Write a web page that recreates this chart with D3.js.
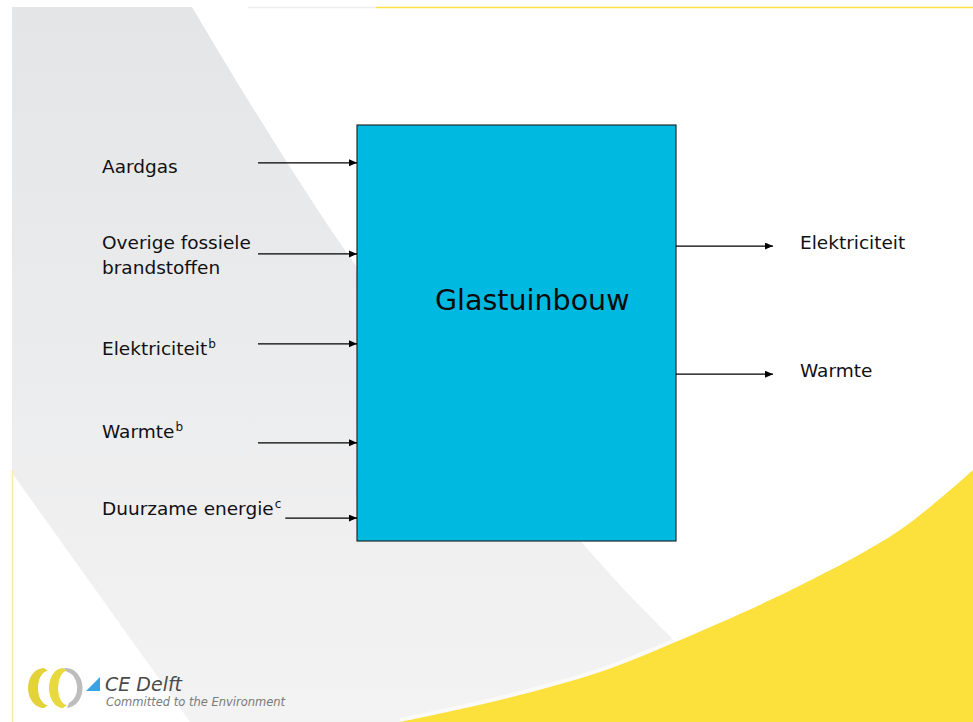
<!DOCTYPE html>
<html>
<head>
<meta charset="utf-8">
<script src="https://cdn.jsdelivr.net/npm/d3@7"></script>
<style>
  html, body { margin: 0; padding: 0; background: #fff; }
  svg { display: block; font-family: 'DejaVu Sans', Verdana, sans-serif; }
</style>
</head>
<body>
<svg id="chart" width="973" height="722"></svg>
<script>
// ── Data ──────────────────────────────────────────────────────────────────────
// where each flow meets the box side, in % of the box height (top = 0)
const inputLabels = [['Aardgas'], ['Overige fossiele', 'brandstoffen'], ['Elektriciteit'], ['Warmte'], ['Duurzame energie']]
const inputSup    = ['', '', 'b', 'b', 'c']
const inputLevel  = [9.1, 31.0, 52.6, 76.4, 94.5]
const outputLabels = ['Elektriciteit', 'Warmte']
const outputLevel  = [29.1, 59.9]
const processName  = 'Glastuinbouw'

// ── Layout ────────────────────────────────────────────────────────────────────
const W = 973, H = 722
const box = { x0: 357, x1: 676, y0: 125, y1: 541 }
const labelDy = [10, -5, 11, -5, -3]     // baseline offset of the input label vs its arrow
const svg = d3.select('#chart')
const y = d3.scaleLinear().domain([0, 100]).range([box.y0, box.y1])

const defs = svg.append('defs')
const grad = defs.append('linearGradient').attr('id', 'band').attr('x1', 0).attr('y1', 0).attr('x2', 0).attr('y2', 1)
grad.append('stop').attr('offset', '0%').attr('stop-color', '#e4e5e6')
grad.append('stop').attr('offset', '100%').attr('stop-color', '#f3f3f4')

defs.append('marker')
  .attr('id', 'arrow').attr('markerUnits', 'userSpaceOnUse')
  .attr('markerWidth', 9).attr('markerHeight', 8)
  .attr('refX', 8).attr('refY', 3.5).attr('orient', 'auto')
  .append('path').attr('d', 'M0,0 L8,3.5 L0,7 Z').attr('fill', '#000')

// ── Slide background ──────────────────────────────────────────────────────────
const smooth = d3.line().curve(d3.curveCatmullRom)
const bandEdge = [[192, 7], [357, 267], [600, 563], [677, 643], [760, 722]]
svg.append('path')
  .attr('d', 'M12,7 ' + smooth(bandEdge).slice(1) + ' L190,722 L12,473 Z')
  .attr('fill', 'url(#band)')

const swoosh = [[400, 722], [500, 700], [600, 672], [673, 643], [797, 587], [900, 530], [973, 470]]
svg.append('path').attr('d', smooth(swoosh))
  .attr('fill', 'none').attr('stroke', '#fff').attr('stroke-width', 8).attr('opacity', 0.6)
svg.append('path')
  .attr('d', smooth(swoosh) + ` L${W},${H} Z`)
  .attr('fill', '#fce03b')

svg.append('line').attr('x1', 248).attr('x2', 376).attr('y1', 7.5).attr('y2', 7.5)
  .attr('stroke', '#eeeeee').attr('stroke-width', 1.5)
svg.append('line').attr('x1', 376).attr('x2', W).attr('y1', 7.5).attr('y2', 7.5)
  .attr('stroke', '#fbe04a').attr('stroke-width', 1.5)
svg.append('line').attr('x1', 12.5).attr('x2', 12.5).attr('y1', 470).attr('y2', H)
  .attr('stroke', '#fbeaa6').attr('stroke-width', 1.5)

// ── Process box ───────────────────────────────────────────────────────────────
svg.append('rect')
  .attr('x', box.x0).attr('y', box.y0)
  .attr('width', box.x1 - box.x0).attr('height', box.y1 - box.y0)
  .attr('fill', '#00b9e0').attr('stroke', '#1f2a30').attr('stroke-width', 1.2)

svg.append('text')
  .attr('x', 435).attr('y', 310)
  .attr('font-size', 28.5).attr('fill', '#0a0a0a')
  .text(processName)

// ── Inputs ────────────────────────────────────────────────────────────────────
const inputs = svg.append('g').selectAll('g')
  .data(inputLabels.map((lines, i) => ({ lines, sup: inputSup[i], level: inputLevel[i], dy: labelDy[i] })))
  .join('g')

inputs.each(function (d) {
  const g = d3.select(this)
  const ay = y(d.level)
  const t = g.append('text').attr('font-size', 18.5).attr('fill', '#111')
  d.lines.forEach((line, k) => {
    t.append('tspan').attr('x', 102).attr('y', ay + d.dy + k * 25).text(line)
  })
  if (d.sup) {
    t.append('tspan').attr('font-size', 12).attr('dy', -7).attr('dx', 1).text(d.sup)
  }
  const bb = t.node().getBBox()
  const start = Math.max(258, bb.x + bb.width + 4)
  g.append('line')
    .attr('x1', start).attr('x2', box.x0).attr('y1', ay).attr('y2', ay)
    .attr('stroke', '#000').attr('stroke-width', 1.3)
    .attr('marker-end', 'url(#arrow)')
})

// ── Outputs ───────────────────────────────────────────────────────────────────
const outputs = svg.append('g').selectAll('g')
  .data(outputLabels.map((label, i) => ({ label, level: outputLevel[i] })))
  .join('g')

outputs.append('line')
  .attr('x1', box.x1).attr('x2', 773)
  .attr('y1', d => y(d.level)).attr('y2', d => y(d.level))
  .attr('stroke', '#000').attr('stroke-width', 1.3)
  .attr('marker-end', 'url(#arrow)')

outputs.append('text')
  .attr('x', 800).attr('y', d => y(d.level) + 3)
  .attr('font-size', 18.5).attr('fill', '#111')
  .text(d => d.label)

// ── Logo ──────────────────────────────────────────────────────────────────────
const logo = svg.append('g')
logo.append('path').attr('d', 'M44,668 A16,20 0 0 0 44,708 L48,705 A10,17 0 0 1 48,671 Z').attr('fill', '#e3d23a')
logo.append('path').attr('d', 'M64,668 A17,20 0 0 1 67,708 L69,703 A12,16 0 0 0 67,672 Z').attr('fill', '#bdbdbd')
logo.append('path').attr('d', 'M63,668 A14,20 0 0 0 63,708 L67,705 A9,17 0 0 1 67,671 Z').attr('fill', '#e8d93f')
logo.append('path').attr('d', 'M86,691 L100,691 L100,677 Z').attr('fill', '#3aa3e3')
logo.append('text').attr('x', 105).attr('y', 691)
  .attr('font-size', 19).attr('font-style', 'italic').attr('fill', '#4a4a4a')
  .text('CE Delft')
logo.append('text').attr('x', 106).attr('y', 706)
  .attr('font-size', 11.5).attr('font-style', 'italic').attr('fill', '#7a7a7a')
  .text('Committed to the Environment')
</script>
</body>
</html>
